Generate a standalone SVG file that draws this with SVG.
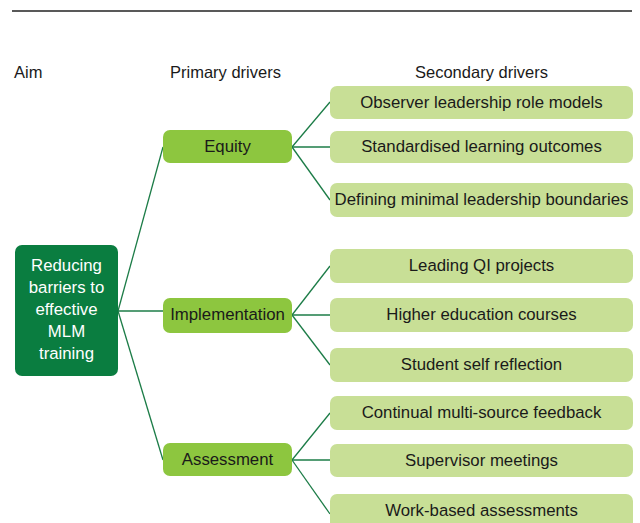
<svg xmlns="http://www.w3.org/2000/svg" width="640" height="523" viewBox="0 0 640 523">
  <style>
    text { font-family: "Liberation Sans", Arial, sans-serif; font-size: 16.8px; text-anchor: middle; }
    .hdr { fill: #1a1a1a; text-anchor: start; font-size: 16.5px; }
    .aim rect { fill: #0a7d40; }
    .aim text { fill: #ffffff; font-size: 16.8px; }
    .pri rect { fill: #8dc63f; }
    .sec rect { fill: #c8df96; }
    .pri text, .sec text { fill: #1a1a1a; }
    .conn line { stroke: #1c7c47; stroke-width: 1.3; }
  </style>

  <!-- rule across the top -->
  <line x1="12" y1="11" x2="632" y2="11" stroke="#222" stroke-width="1.3"/>

  <!-- column headings -->
  <text class="hdr" x="14" y="78">Aim</text>
  <text class="hdr" x="170" y="78">Primary drivers</text>
  <text class="hdr" x="415" y="78">Secondary drivers</text>

  <!-- connectors -->
  <g class="conn" id="connectors">
    <line x1="118" y1="311" x2="163" y2="147"/>
    <line x1="118" y1="311" x2="163" y2="311"/>
    <line x1="118" y1="311" x2="163" y2="460"/>

    <line x1="292" y1="147" x2="330" y2="102"/>
    <line x1="292" y1="147" x2="330" y2="147"/>
    <line x1="292" y1="147" x2="330" y2="200"/>

    <line x1="292" y1="315" x2="330" y2="266"/>
    <line x1="292" y1="315" x2="330" y2="315"/>
    <line x1="292" y1="315" x2="330" y2="365"/>

    <line x1="292" y1="460" x2="330" y2="413"/>
    <line x1="292" y1="460" x2="330" y2="460"/>
    <line x1="292" y1="460" x2="330" y2="514"/>
  </g>

  <!-- aim -->
  <g class="aim" id="aim">
    <rect x="15" y="245" width="103" height="131" rx="7"/>
    <text x="66.5" y="271">Reducing</text>
    <text x="66.5" y="293">barriers to</text>
    <text x="66.5" y="315">effective</text>
    <text x="66.5" y="337">MLM</text>
    <text x="66.5" y="359">training</text>
  </g>

  <!-- primary drivers -->
  <g class="pri" id="equity">
    <rect x="163" y="130" width="129" height="33" rx="7"/>
    <text x="227.5" y="151.5">Equity</text>
  </g>
  <g class="pri" id="implementation">
    <rect x="163" y="298" width="129" height="35" rx="7"/>
    <text x="227.5" y="320">Implementation</text>
  </g>
  <g class="pri" id="assessment">
    <rect x="163" y="443" width="129" height="33" rx="7"/>
    <text x="227.5" y="464.5">Assessment</text>
  </g>

  <!-- secondary drivers -->
  <g class="sec" id="role-models">
    <rect x="330" y="86" width="303" height="33" rx="7"/>
    <text x="481.5" y="107.5">Observer leadership role models</text>
  </g>
  <g class="sec" id="learning-outcomes">
    <rect x="330" y="131" width="303" height="32" rx="7"/>
    <text x="481.5" y="152">Standardised learning outcomes</text>
  </g>
  <g class="sec" id="leadership-boundaries">
    <rect x="330" y="183" width="303" height="34" rx="7"/>
    <text x="481.5" y="205">Defining minimal leadership boundaries</text>
  </g>
  <g class="sec" id="qi-projects">
    <rect x="330" y="249" width="303" height="34" rx="7"/>
    <text x="481.5" y="271">Leading QI projects</text>
  </g>
  <g class="sec" id="higher-education">
    <rect x="330" y="298" width="303" height="34" rx="7"/>
    <text x="481.5" y="320">Higher education courses</text>
  </g>
  <g class="sec" id="self-reflection">
    <rect x="330" y="348" width="303" height="34" rx="7"/>
    <text x="481.5" y="370">Student self reflection</text>
  </g>
  <g class="sec" id="multi-source-feedback">
    <rect x="330" y="396" width="303" height="34" rx="7"/>
    <text x="481.5" y="418">Continual multi-source feedback</text>
  </g>
  <g class="sec" id="supervisor-meetings">
    <rect x="330" y="444" width="303" height="33" rx="7"/>
    <text x="481.5" y="465.5">Supervisor meetings</text>
  </g>
  <g class="sec" id="work-based-assessments">
    <rect x="330" y="494" width="303" height="40" rx="7"/>
    <text x="481.5" y="516">Work-based assessments</text>
  </g>
</svg>
